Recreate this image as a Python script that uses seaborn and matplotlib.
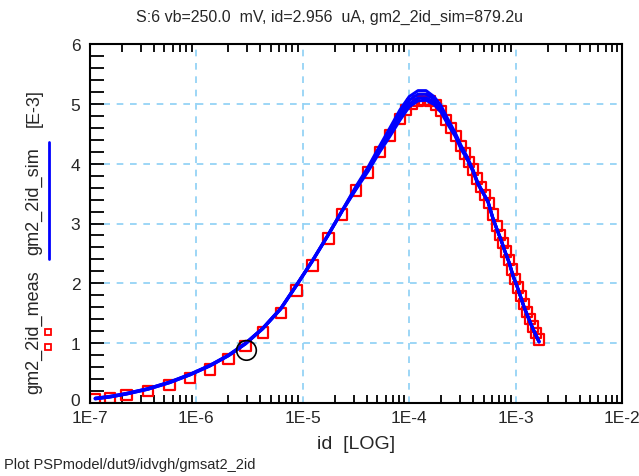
import matplotlib
matplotlib.use("Agg")
import matplotlib.pyplot as plt
import matplotlib.ticker as mticker
import matplotlib.transforms as mtransforms
from matplotlib.lines import Line2D
import seaborn as sns
import pandas as pd

# ---- data ----
# simulated curves (several overlapping blue lines)
sim_id = [1.12e-7, 1.54e-7, 2.2e-7, 3.5e-7, 5.6e-7, 8.7e-7, 1.34e-6, 2.0e-6, 2.9e-6,
          4.2e-6, 6.2e-6, 8.7e-6, 1.23e-5, 1.74e-5, 2.35e-5, 3.16e-5, 4.1e-5, 5.3e-5,
          6.6e-5, 8.2e-5, 1.0e-4, 1.21e-4, 1.44e-4, 1.71e-4, 1.99e-4, 2.3e-4, 2.7e-4,
          3.08e-4, 3.49e-4, 3.97e-4, 4.4e-4, 4.9e-4, 5.5e-4, 6.1e-4, 6.7e-4, 7.3e-4,
          7.9e-4, 8.7e-4, 9.5e-4, 1.03e-3, 1.1e-3, 1.2e-3, 1.29e-3, 1.38e-3, 1.46e-3,
          1.56e-3, 1.66e-3]

sim_a = [0.08, 0.11, 0.16, 0.24, 0.35, 0.48, 0.63, 0.80, 1.00, 1.25, 1.58, 1.97, 2.38,
         2.82, 3.22, 3.62, 3.94, 4.30, 4.60, 4.90, 5.12, 5.22, 5.22, 5.12, 4.97, 4.75,
         4.52, 4.30, 4.12, 3.90, 3.69, 3.53, 3.37, 3.10, 2.90, 2.73, 2.55, 2.35, 2.12,
         1.96, 1.81, 1.61, 1.47, 1.34, 1.24, 1.13, 1.03]
sim_b = [0.08, 0.11, 0.16, 0.24, 0.35, 0.48, 0.63, 0.80, 1.00, 1.25, 1.58, 1.97, 2.38,
         2.82, 3.22, 3.60, 3.91, 4.27, 4.55, 4.84, 5.06, 5.16, 5.16, 5.08, 4.93, 4.72,
         4.50, 4.28, 4.11, 3.89, 3.68, 3.53, 3.37, 3.10, 2.90, 2.73, 2.55, 2.35, 2.12,
         1.96, 1.81, 1.61, 1.47, 1.34, 1.24, 1.13, 1.03]
sim_c = [0.07, 0.10, 0.15, 0.23, 0.34, 0.47, 0.62, 0.79, 0.99, 1.24, 1.57, 1.96, 2.37,
         2.81, 3.21, 3.58, 3.89, 4.24, 4.50, 4.78, 5.00, 5.10, 5.10, 5.03, 4.89, 4.69,
         4.48, 4.26, 4.09, 3.88, 3.67, 3.52, 3.36, 3.09, 2.89, 2.72, 2.54, 2.34, 2.11,
         1.95, 1.80, 1.60, 1.46, 1.33, 1.23, 1.12, 1.02]
sim_d = [0.07, 0.10, 0.15, 0.23, 0.34, 0.47, 0.62, 0.79, 0.99, 1.24, 1.57, 1.96, 2.37,
         2.81, 3.21, 3.57, 3.87, 4.20, 4.46, 4.73, 4.95, 5.05, 5.06, 4.99, 4.86, 4.66,
         4.46, 4.24, 4.08, 3.87, 3.66, 3.52, 3.36, 3.09, 2.89, 2.72, 2.54, 2.34, 2.11,
         1.95, 1.80, 1.60, 1.46, 1.33, 1.23, 1.12, 1.02]
sim_curves = [sim_a, sim_b, sim_c, sim_d]

# measured points (red squares)
meas_id = [1.12e-7, 1.54e-7, 2.2e-7, 3.5e-7, 5.6e-7, 8.7e-7, 1.34e-6, 2.0e-6, 2.9e-6,
           4.2e-6, 6.2e-6, 8.7e-6, 1.23e-5, 1.74e-5, 2.35e-5, 3.16e-5, 4.1e-5, 5.3e-5,
           6.6e-5, 8.2e-5, 9.3e-5, 1.06e-4, 1.21e-4, 1.38e-4, 1.57e-4, 1.79e-4, 1.99e-4,
           2.22e-4, 2.47e-4, 2.75e-4, 3.07e-4, 3.34e-4, 3.65e-4, 3.98e-4, 4.34e-4,
           4.73e-4, 5.15e-4, 5.62e-4, 6.13e-4, 6.68e-4, 7.13e-4, 7.61e-4, 8.13e-4,
           8.67e-4, 9.25e-4, 9.87e-4, 1.05e-3, 1.12e-3, 1.20e-3, 1.28e-3, 1.36e-3,
           1.46e-3, 1.56e-3, 1.66e-3]
gm2_2id_meas = [0.06, 0.08, 0.13, 0.20, 0.30, 0.42, 0.56, 0.73, 0.95, 1.18, 1.50, 1.88,
                2.30, 2.75, 3.15, 3.55, 3.85, 4.20, 4.47, 4.75, 4.90, 5.00, 5.05, 5.07,
                5.05, 4.98, 4.88, 4.73, 4.60, 4.46, 4.29, 4.17, 4.03, 3.90, 3.75, 3.61,
                3.48, 3.34, 3.15, 2.96, 2.81, 2.67, 2.53, 2.39, 2.23, 2.07, 1.93, 1.79,
                1.65, 1.52, 1.40, 1.28, 1.17, 1.06]

cursor_id = [2.956e-6]
cursor_val = [0.8792]

x_ticks = [1e-7, 1e-6, 1e-5, 1e-4, 1e-3, 1e-2]
x_tick_labels = ["1E-7", "1E-6", "1E-5", "1E-4", "1E-3", "1E-2"]
y_ticks = [0, 1, 2, 3, 4, 5, 6]

# ---- style ----
sns.set_style("white")
plt.rcParams['font.family'] = ['Liberation Sans', 'DejaVu Sans']

W, H = 639, 477
fig = plt.figure(figsize=(W / 100, H / 100), dpi=100)
ax = fig.add_axes([90 / W, 1 - 404 / H, (622 - 90) / W, (404 - 45) / H])

dfm = pd.DataFrame({"id": meas_id, "val": gm2_2id_meas})
sns.scatterplot(data=dfm, x="id", y="val", ax=ax, marker="s", s=55,
                facecolors="none", edgecolor="#ff0000", linewidth=1.6, zorder=2)
for coll in ax.collections:
    coll.set_facecolor("none")

for curve in sim_curves:
    df = pd.DataFrame({"id": sim_id, "val": curve})
    sns.lineplot(data=df, x="id", y="val", ax=ax, color="#0000ff", lw=2.2,
                 sort=False, estimator=None, zorder=3)

dfc = pd.DataFrame({"id": cursor_id, "val": cursor_val})
sns.scatterplot(data=dfc, x="id", y="val", ax=ax, marker="o", s=200,
                facecolors="none", edgecolor="black", linewidth=1.2, zorder=4)
ax.collections[-1].set_facecolor("none")

ax.set_xscale("log")
ax.set_xlim(1e-7, 1e-2)
ax.set_ylim(0, 6)
ax.set_xticks(x_ticks)
ax.set_xticklabels(x_tick_labels)
ax.set_yticks(y_ticks)
ax.xaxis.set_minor_locator(mticker.LogLocator(base=10, subs=range(2, 10), numticks=20))
ax.xaxis.set_minor_formatter(mticker.NullFormatter())
ax.yaxis.set_minor_locator(mticker.MultipleLocator(0.2))

ax.tick_params(axis="x", which="both", direction="in", top=True, bottom=True,
               labelsize=12.5, pad=5, color="black", width=1.3)
ax.tick_params(axis="x", which="major", length=0)
ax.tick_params(axis="x", which="minor", length=6)
ax.tick_params(axis="y", which="both", direction="in", left=True, right=False,
               labelsize=12.5, pad=7, color="black", width=1.3)
ax.tick_params(axis="y", which="major", length=10)
ax.tick_params(axis="y", which="minor", length=10)

# lift the "0" label slightly so it clears "1E-7"
fig.canvas.draw()
ylabels = ax.get_yticklabels()
ylabels[0].set_transform(ylabels[0].get_transform() +
                         mtransforms.ScaledTranslation(0, 4 / 100, fig.dpi_scale_trans))

ax.grid(True, which="major", color="#8ccff5", linestyle=(0, (4, 4)), linewidth=1.2)
ax.set_axisbelow(True)
for sp in ax.spines.values():
    sp.set_color("black")
    sp.set_linewidth(1.5)
    sp.set_visible(True)

ax.set_xlabel("id  [LOG]", fontsize=14, labelpad=7)
ax.set_ylabel("")

fig.text(330 / W, 1 - 17 / H, "S:6 vb=250.0  mV, id=2.956  uA, gm2_2id_sim=879.2u",
         ha="center", va="center", fontsize=11.5)
fig.text(4 / W, 1 - 465 / H, "Plot PSPmodel/dut9/idvgh/gmsat2_2id",
         ha="left", va="center", fontsize=10.5)

# composite y label
fig.text(34 / W, 1 - 332 / H, "gm2_2id_meas", rotation=90, ha="center", va="center",
         fontsize=13)
fig.text(34 / W, 1 - 201 / H, "gm2_2id_sim", rotation=90, ha="center", va="center",
         fontsize=13)
fig.text(34 / W, 1 - 108 / H, "[E-3]", rotation=90, ha="center", va="center",
         fontsize=13)
fig.add_artist(Line2D([49 / W, 49 / W], [1 - 260 / H, 1 - 143 / H],
                      transform=fig.transFigure, color="#0000ff", lw=2))
fig.add_artist(Line2D([48 / W, 48 / W], [1 - 333 / H, 1 - 348 / H],
                      transform=fig.transFigure, color="#ff0000", lw=0,
                      marker="s", markersize=5, markerfacecolor="none",
                      markeredgecolor="#ff0000", markeredgewidth=1.3))

fig.savefig("out.png", dpi=100)
